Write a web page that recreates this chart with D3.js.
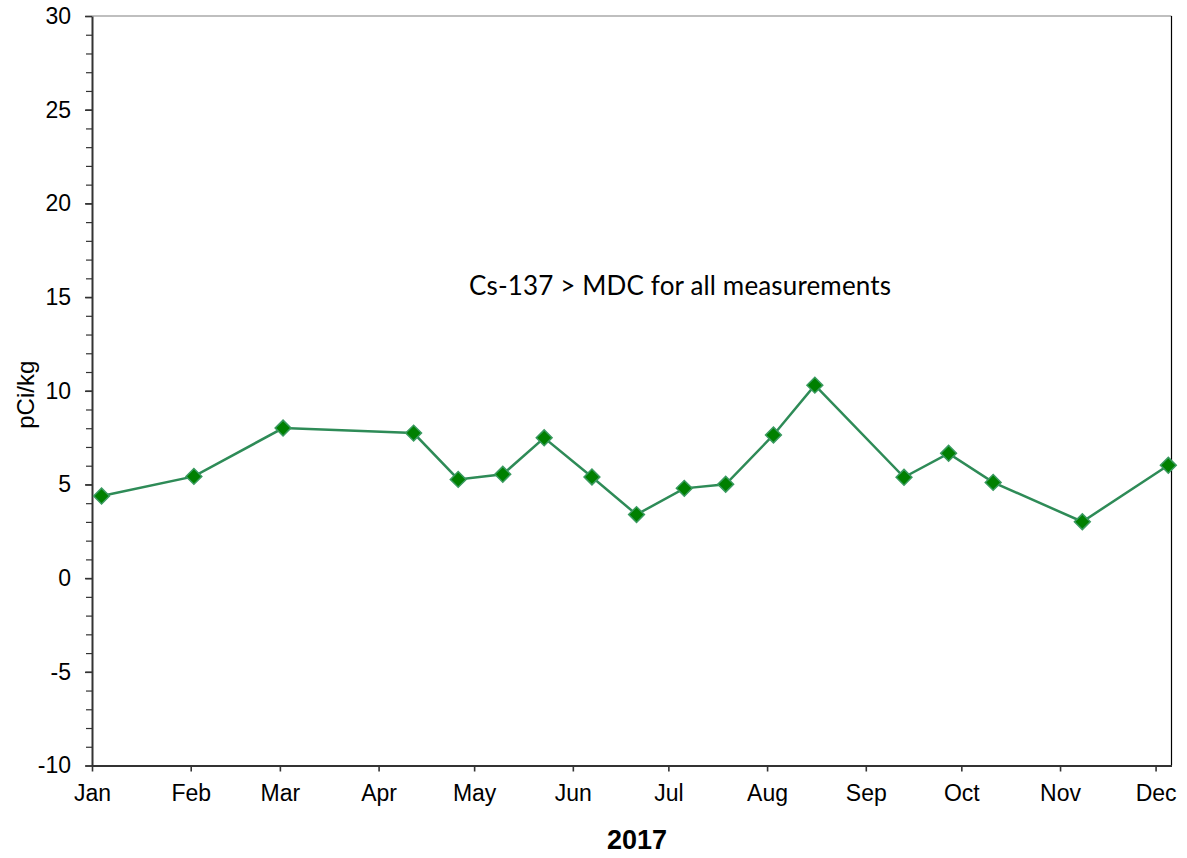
<!DOCTYPE html>
<html>
<head>
<meta charset="utf-8">
<script src="https://cdn.jsdelivr.net/npm/d3@7"></script>
<style>
  html, body { margin: 0; padding: 0; background: #fff; }
  svg { display: block; }
</style>
</head>
<body>
<svg id="chart" width="1187" height="858"></svg>
<script>
// Cs-137 sample dates (2017) and measured activity, pCi/kg
const sampleDates = [
  "2017-01-04", "2017-02-02", "2017-03-02", "2017-04-12", "2017-04-26",
  "2017-05-10", "2017-05-23", "2017-06-07", "2017-06-21", "2017-07-06",
  "2017-07-19", "2017-08-03", "2017-08-16", "2017-09-13", "2017-09-27",
  "2017-10-11", "2017-11-08", "2017-12-05"
];
const cs137Values = [
  4.38, 5.43, 8.01, 7.74, 5.27, 5.54, 7.49, 5.40, 3.39, 4.79,
  5.01, 7.64, 10.30, 5.38, 6.66, 5.11, 3.01, 6.02
];
const monthLabels = ["Jan", "Feb", "Mar", "Apr", "May", "Jun",
                     "Jul", "Aug", "Sep", "Oct", "Nov", "Dec"];
const yTickValues = [-10, -5, 0, 5, 10, 15, 20, 25, 30];
const yMinorTickValues = d3.range(-10, 31, 1);
const xDomain = ["2017-01-01", "2017-12-06"];
const yDomain = [-10, 30];

const parse = d3.utcParse("%Y-%m-%d");
const data = sampleDates.map((d, i) => ({ date: parse(d), value: cs137Values[i] }));

const svg = d3.select("#chart");
const plot = { left: 92, right: 1171.5, top: 16, bottom: 765.5 };

const x = d3.scaleUtc().domain(xDomain.map(parse)).range([plot.left, plot.right]);
const y = d3.scaleLinear().domain(yDomain).range([plot.bottom, plot.top]);

const axisFont = "'Liberation Sans', Arial, sans-serif";
const labelSize = 23;

// frame: top and right edges
svg.append("line")
  .attr("x1", plot.left).attr("x2", plot.right)
  .attr("y1", plot.top).attr("y2", plot.top)
  .attr("stroke", "#808080").attr("stroke-width", 1.2);
svg.append("line")
  .attr("x1", plot.right).attr("x2", plot.right)
  .attr("y1", plot.top).attr("y2", plot.bottom)
  .attr("stroke", "#000").attr("stroke-width", 1.2);

// y axis: minor ticks then major ticks with labels
const yMinor = svg.append("g")
  .attr("transform", `translate(${plot.left},0)`)
  .call(d3.axisLeft(y).tickValues(yMinorTickValues).tickSize(6).tickFormat(""));
yMinor.select(".domain").remove();
yMinor.selectAll(".tick line").attr("stroke", "#333").attr("stroke-width", 1.2);

const yAxis = svg.append("g")
  .attr("transform", `translate(${plot.left},0)`)
  .call(d3.axisLeft(y).tickValues(yTickValues).tickSize(7).tickPadding(14).tickSizeOuter(0)
    .tickFormat(d => String(d)));
yAxis.select(".domain").attr("stroke", "#333").attr("stroke-width", 2);
yAxis.selectAll(".tick line").attr("stroke", "#333").attr("stroke-width", 1.6);
yAxis.selectAll(".tick text")
  .attr("font-family", axisFont).attr("font-size", labelSize).attr("fill", "#000");

// x axis: first day of each month
const monthStarts = d3.utcMonths(parse("2017-01-01"), parse("2017-12-02"));
const xAxis = svg.append("g")
  .attr("transform", `translate(0,${plot.bottom})`)
  .call(d3.axisBottom(x).tickValues(monthStarts).tickSize(6).tickPadding(13).tickSizeOuter(0)
    .tickFormat((d, i) => monthLabels[i]));
xAxis.select(".domain").attr("stroke", "#333").attr("stroke-width", 2.2);
xAxis.selectAll(".tick line").attr("stroke", "#333").attr("stroke-width", 1.6);
xAxis.selectAll(".tick text")
  .attr("font-family", axisFont).attr("font-size", labelSize).attr("fill", "#000");

// axis titles
svg.append("text")
  .attr("transform", `translate(34,${(plot.top + plot.bottom) / 2 + 4}) rotate(-90)`)
  .attr("text-anchor", "middle")
  .attr("font-family", axisFont).attr("font-size", 24)
  .text("pCi/kg");

svg.append("text")
  .attr("x", 637).attr("y", 849)
  .attr("text-anchor", "middle")
  .attr("font-family", axisFont).attr("font-size", 27).attr("font-weight", "bold")
  .text("2017");

// annotation
svg.append("text")
  .attr("x", 469).attr("y", 295)
  .attr("font-family", "Lato, 'Open Sans', sans-serif").attr("font-size", 26)
  .attr("letter-spacing", 0.15)
  .attr("fill", "#000")
  .text("Cs-137 > MDC for all measurements");

// series line
const line = d3.line().x(d => x(d.date)).y(d => y(d.value));
svg.append("path")
  .datum(data)
  .attr("d", line)
  .attr("fill", "none")
  .attr("stroke", "#2e8b57")
  .attr("stroke-width", 2.5);

// diamond markers
const diamond = d3.symbol().type(d3.symbolSquare).size(125);
svg.append("g").selectAll("path")
  .data(data)
  .join("path")
  .attr("d", diamond)
  .attr("transform", d => `translate(${x(d.date)},${y(d.value)}) rotate(45)`)
  .attr("fill", "#008000")
  .attr("stroke", "#3a9a60")
  .attr("stroke-width", 1.5);
</script>
</body>
</html>
